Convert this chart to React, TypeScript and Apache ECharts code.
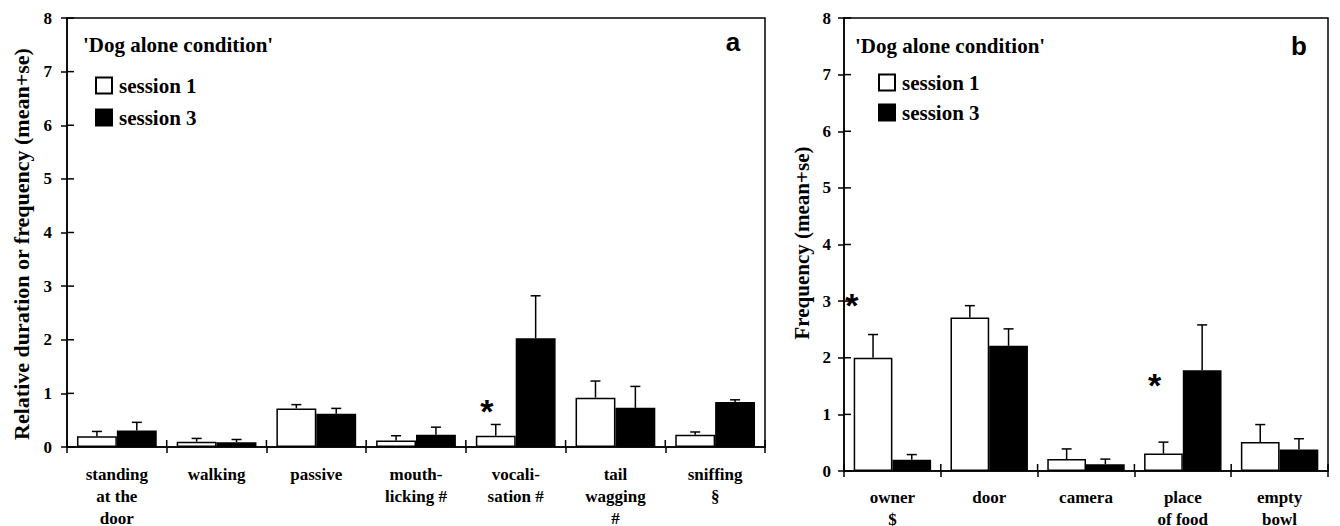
import React, { useEffect, useRef } from "react";
import * as echarts from "echarts";

// ---------- Data ----------
const categoriesA = [
  "standing\nat the\ndoor",
  "walking",
  "passive",
  "mouth-\nlicking #",
  "vocali-\nsation #",
  "tail\nwagging\n#",
  "sniffing\n§",
];
const session1A = [0.2, 0.1, 0.72, 0.12, 0.21, 0.92, 0.23];
const session1ASe = [0.09, 0.06, 0.07, 0.09, 0.21, 0.31, 0.05];
const session3A = [0.31, 0.09, 0.62, 0.23, 2.03, 0.73, 0.84];
const session3ASe = [0.15, 0.05, 0.1, 0.14, 0.79, 0.4, 0.04];

const categoriesB = ["owner\n$", "door", "camera", "place\nof food", "empty\nbowl"];
const session1B = [2.0, 2.71, 0.21, 0.31, 0.51];
const session1BSe = [0.41, 0.21, 0.18, 0.2, 0.31];
const session3B = [0.2, 2.21, 0.12, 1.78, 0.38];
const session3BSe = [0.09, 0.3, 0.09, 0.8, 0.19];

// significance asterisks: category index, value, shift (fraction of band width)
const asteriskCatA = [4];
const asteriskValA = [0.82];
const asteriskShiftA = [-0.29];
const asteriskCatB = [0, 3];
const asteriskValB = [3.07, 1.66];
const asteriskShiftB = [-0.42, -0.29];

const yMin = 0;
const yMax = 8;
const yInterval = 1;
const yTickValues = [0, 1, 2, 3, 4, 5, 6, 7, 8];

const seriesNames = ["session 1", "session 3"];
const titleText = "'Dog alone condition'";
const yTitleA = "Relative duration or frequency (mean+se)";
const yTitleB = "Frequency (mean+se)";

// ---------- Styles ----------
const SERIF = "'Liberation Serif', 'Times New Roman', serif";
const SANS = "'Liberation Sans', Arial, sans-serif";
const LW = 1.5;
const TICK_COLOR = "#000";

const GRID_A = { left: 67, top: 18, width: 698, height: 429 };
const GRID_B = { left: 844, top: 18, width: 484, height: 453 };

function makeErrorSeries(name: string, xi: number, yi: number, means: number[], ses: number[], side: number) {
  return {
    type: "custom",
    name: name + " se",
    xAxisIndex: xi,
    yAxisIndex: yi,
    z: 5,
    silent: true,
    data: means.map((m, i) => [i, m, ses[i]]),
    renderItem: (_params: any, api: any) => {
      const idx = api.value(0);
      const m = api.value(1);
      const s = api.value(2);
      const bw = api.size([1, 0])[0];
      const dx = side * bw * 0.2;
      const p0 = api.coord([idx, m]);
      const p1 = api.coord([idx, m + s]);
      const x = p0[0] + dx;
      return {
        type: "group",
        children: [
          { type: "line", shape: { x1: x, y1: p0[1], x2: x, y2: p1[1] }, style: { stroke: "#000", lineWidth: LW } },
          { type: "line", shape: { x1: x - 5, y1: p1[1], x2: x + 5, y2: p1[1] }, style: { stroke: "#000", lineWidth: LW } },
        ],
      };
    },
  };
}

function makeAsteriskSeries(xi: number, yi: number, cats: number[], vals: number[], shifts: number[]) {
  const fs = 34;
  return {
    type: "custom",
    name: "asterisk",
    xAxisIndex: xi,
    yAxisIndex: yi,
    z: 6,
    silent: true,
    data: cats.map((c, i) => [c, vals[i], shifts[i]]),
    renderItem: (_params: any, api: any) => {
      const idx = api.value(0);
      const v = api.value(1);
      const sh = api.value(2);
      const bw = api.size([1, 0])[0];
      const p = api.coord([idx, v]);
      return {
        type: "text",
        x: p[0] + sh * bw,
        y: p[1] + fs * 0.23,
        style: {
          text: "*",
          fill: "#000",
          fontFamily: SANS,
          fontWeight: "bold",
          fontSize: fs,
          align: "center",
          verticalAlign: "middle",
          textAlign: "center",
          textVerticalAlign: "middle",
        },
      };
    },
  };
}

// inward halves of the crossing ticks on the y axis (at each y tick value)
function makeInnerYTicks(xi: number, yi: number) {
  return {
    type: "custom",
    name: "inner y ticks",
    xAxisIndex: xi,
    yAxisIndex: yi,
    z: 7,
    silent: true,
    data: yTickValues.map((v) => [0, v, 0]),
    renderItem: (_params: any, api: any) => {
      const bw = api.size([1, 0])[0];
      const p = api.coord([api.value(0), api.value(1)]);
      const x0 = p[0] - bw / 2;
      return {
        type: "group",
        children: [
          { type: "line", shape: { x1: x0, y1: p[1], x2: x0 + 7, y2: p[1] }, style: { stroke: TICK_COLOR, lineWidth: LW } },
        ],
      };
    },
  };
}

// inward halves of the crossing ticks on the x axis (at each category boundary)
function makeInnerXTicks(xi: number, yi: number, n: number) {
  const idx: number[] = [];
  for (let i = 0; i <= n; i++) idx.push(i);
  return {
    type: "custom",
    name: "inner x ticks",
    xAxisIndex: xi,
    yAxisIndex: yi,
    z: 7,
    silent: true,
    data: idx.map((i) => [Math.min(i, n - 1), yMin, i]),
    renderItem: (_params: any, api: any) => {
      const bw = api.size([1, 0])[0];
      const c = api.value(0);
      const b = api.value(2);
      const p = api.coord([c, api.value(1)]);
      const xb = p[0] - bw / 2 + (b - c) * bw;
      return {
        type: "group",
        children: [
          { type: "line", shape: { x1: xb, y1: p[1], x2: xb, y2: p[1] - 7 }, style: { stroke: TICK_COLOR, lineWidth: LW } },
        ],
      };
    },
  };
}

function yAxis(gridIndex: number, margin: number) {
  return {
    gridIndex,
    type: "value",
    min: yMin,
    max: yMax,
    interval: yInterval,
    splitLine: { show: false },
    position: "left",
    axisLine: { show: true, onZero: false, lineStyle: { color: "#000", width: LW } },
    axisTick: { show: true, inside: false, length: 6, lineStyle: { color: "#000", width: LW } },
    axisLabel: { show: true, margin, color: "#000", fontFamily: SERIF, fontWeight: "bold", fontSize: 17 },
  };
}

function xAxis(gridIndex: number, data: string[], margin: number) {
  return {
    gridIndex,
    type: "category",
    data,
    boundaryGap: true,
    position: "bottom",
    axisLine: { show: true, onZero: false, lineStyle: { color: "#000", width: LW } },
    axisTick: { show: true, inside: false, length: 6, alignWithLabel: false, lineStyle: { color: "#000", width: LW } },
    axisLabel: {
      show: true,
      interval: 0,
      margin,
      color: "#000",
      fontFamily: SERIF,
      fontWeight: "bold",
      fontSize: 17,
      lineHeight: 22,
    },
  };
}

function barSeries(name: string, xi: number, yi: number, data: number[], white: boolean) {
  return {
    type: "bar",
    name,
    xAxisIndex: xi,
    yAxisIndex: yi,
    data,
    barGap: "0%",
    barCategoryGap: "20%",
    silent: true,
    itemStyle: white
      ? { color: "#fff", borderColor: "#000", borderWidth: LW }
      : { color: "#000", borderColor: "#000", borderWidth: LW },
  };
}

function legendAt(left: number, top: number, gap: number) {
  return {
    data: seriesNames,
    orient: "vertical",
    left,
    top,
    icon: "rect",
    itemWidth: 16,
    itemHeight: 16,
    itemGap: gap,
    selectedMode: false,
    textStyle: { color: "#000", fontFamily: SERIF, fontWeight: "bold", fontSize: 21, padding: [0, 0, 0, 2] },
  };
}

function textEl(text: string, x: number, y: number, font: { family: string; size: number }, align = "left", rotation = 0) {
  return {
    type: "text",
    x,
    y,
    rotation,
    silent: true,
    style: {
      text,
      fill: "#000",
      fontFamily: font.family,
      fontWeight: "bold",
      fontSize: font.size,
      align,
      verticalAlign: "middle",
      textAlign: align,
      textVerticalAlign: "middle",
    },
  };
}

export default function App() {
  const ref = useRef<HTMLDivElement>(null);

  useEffect(() => {
    document.body.style.margin = "0";
    if (!ref.current) return;
    const chart = echarts.init(ref.current, undefined, { renderer: "svg" });

    const gridCommon = {
      show: true,
      borderColor: "#000",
      borderWidth: LW,
      backgroundColor: "transparent",
      containLabel: false,
      outerBoundsMode: "none",
    };

    const option: any = {
      animation: false,
      backgroundColor: "#fff",
      grid: [
        { ...GRID_A, ...gridCommon },
        { ...GRID_B, ...gridCommon },
      ],
      xAxis: [xAxis(0, categoriesA, 16), xAxis(1, categoriesB, 15)],
      yAxis: [yAxis(0, 15), yAxis(1, 13)],
      legend: [legendAt(90, 70, 11), legendAt(873, 67, 9)],
      series: [
        barSeries(seriesNames[0], 0, 0, session1A, true),
        barSeries(seriesNames[1], 0, 0, session3A, false),
        makeErrorSeries(seriesNames[0], 0, 0, session1A, session1ASe, -1),
        makeErrorSeries(seriesNames[1], 0, 0, session3A, session3ASe, 1),
        makeAsteriskSeries(0, 0, asteriskCatA, asteriskValA, asteriskShiftA),
        makeInnerYTicks(0, 0),
        makeInnerXTicks(0, 0, categoriesA.length),
        barSeries(seriesNames[0], 1, 1, session1B, true),
        barSeries(seriesNames[1], 1, 1, session3B, false),
        makeErrorSeries(seriesNames[0], 1, 1, session1B, session1BSe, -1),
        makeErrorSeries(seriesNames[1], 1, 1, session3B, session3BSe, 1),
        makeAsteriskSeries(1, 1, asteriskCatB, asteriskValB, asteriskShiftB),
        makeInnerYTicks(1, 1),
        makeInnerXTicks(1, 1, categoriesB.length),
      ],
      graphic: [
        textEl(titleText, 83, 45, { family: SERIF, size: 21 }),
        textEl(titleText, 855, 46, { family: SERIF, size: 21 }),
        textEl("a", 733, 42, { family: SANS, size: 26 }, "center"),
        textEl("b", 1299, 46, { family: SANS, size: 26 }, "center"),
        textEl(yTitleA, 21, 244, { family: SERIF, size: 22 }, "center", Math.PI / 2),
        textEl(yTitleB, 802, 243, { family: SERIF, size: 21 }, "center", Math.PI / 2),
      ],
    };

    chart.setOption(option);
    return () => chart.dispose();
  }, []);

  return <div ref={ref} style={{ width: 1340, height: 526 }} />;
}
